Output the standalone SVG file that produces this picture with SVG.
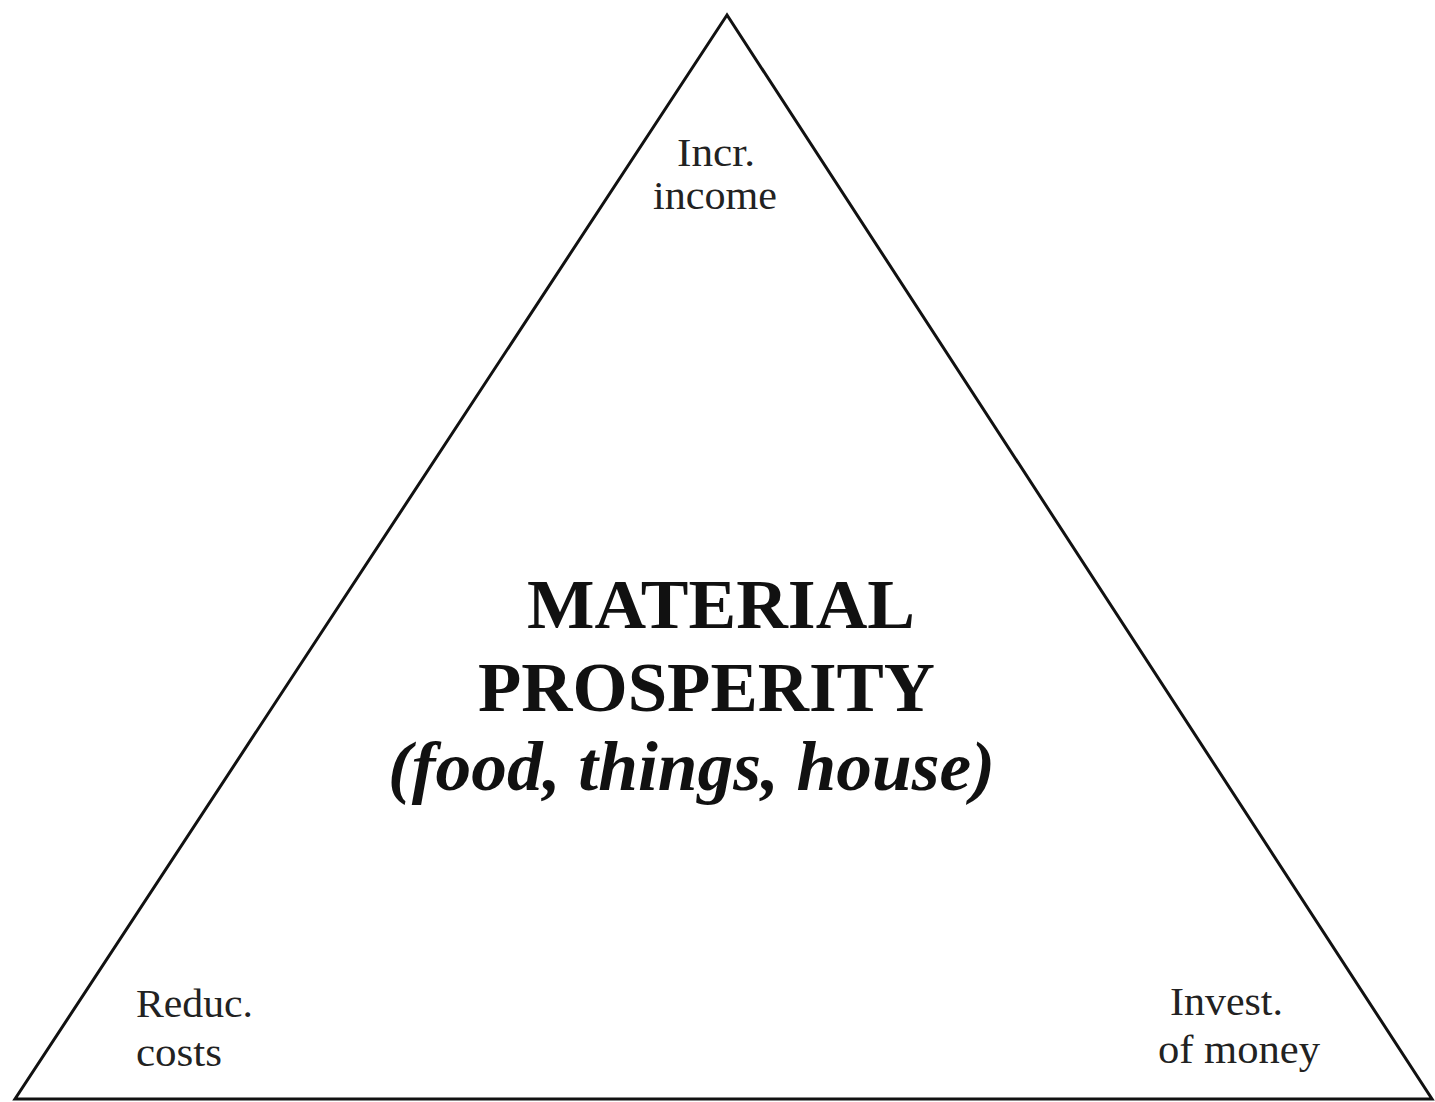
<svg xmlns="http://www.w3.org/2000/svg" width="1435" height="1102" viewBox="0 0 1435 1102">
<style>
.lbl{font-family:"Liberation Serif","Times New Roman",serif;font-size:40px;fill:#222}
.big{font-family:"Liberation Serif","Times New Roman",serif;font-size:70px;font-weight:bold;fill:#111}
.it{font-style:italic}
</style>
<rect width="1435" height="1102" fill="#fff"/>
<g id="triangle">
<polygon points="727,15 15,1099 1432,1099" fill="none" stroke="#111" stroke-width="3" stroke-linejoin="miter"/>
</g>
<g id="connectors"></g>
<g id="top-label">
<text class="lbl" x="677" y="166" textLength="78" lengthAdjust="spacingAndGlyphs">Incr.</text>
<text class="lbl" x="653" y="209" textLength="124" lengthAdjust="spacingAndGlyphs">income</text>
</g>
<g id="left-label">
<text class="lbl" x="136" y="1017" textLength="117" lengthAdjust="spacingAndGlyphs">Reduc.</text>
<text class="lbl" x="136" y="1066" textLength="86" lengthAdjust="spacingAndGlyphs">costs</text>
</g>
<g id="right-label">
<text class="lbl" x="1170" y="1015" textLength="113" lengthAdjust="spacingAndGlyphs">Invest.</text>
<text class="lbl" x="1158" y="1063" textLength="162" lengthAdjust="spacingAndGlyphs">of money</text>
</g>
<g id="center">
<text class="big" x="527" y="628" textLength="388" lengthAdjust="spacingAndGlyphs">MATERIAL</text>
<text class="big" x="478" y="711" textLength="457" lengthAdjust="spacingAndGlyphs">PROSPERITY</text>
<text class="big it" x="388" y="790" textLength="607" lengthAdjust="spacingAndGlyphs">(food, things, house)</text>
</g>
</svg>
